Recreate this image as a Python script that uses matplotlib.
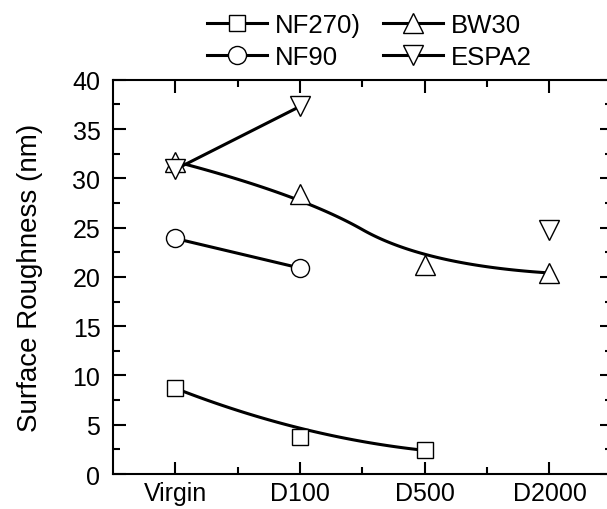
import numpy as np
import matplotlib
matplotlib.use("Agg")
import matplotlib.pyplot as plt
from matplotlib.lines import Line2D

plt.rcParams['font.family'] = ['Liberation Sans', 'DejaVu Sans']

# ------------------------
# Data
# ------------------------
categories = ["Virgin", "D100", "D500", "D2000"]
nf270 = [8.7, 3.75, 2.4, None]
nf90 = [23.9, 20.9, None, None]
bw30 = [31.7, 28.4, 21.2, 20.4]
espa2 = [30.9, 37.3, None, 24.8]
labels = ["NF270)", "NF90", "BW30", "ESPA2"]


def bspline2(xs, ys, n=60):
    # clamped quadratic B-spline: data points act as control points
    P = np.column_stack([xs, ys]).astype(float)
    m = len(P)
    Q = [P[0]] + [(P[k] + P[k + 1]) / 2 for k in range(1, m - 2)] + [P[-1]]
    t = np.linspace(0, 1, n)[:, None]
    segs = []
    for k in range(1, m - 1):
        a, c, b = Q[k - 1], P[k], Q[k]
        segs.append((1 - t)**2 * a + 2 * t * (1 - t) * c + t**2 * b)
    pts = np.vstack(segs)
    return pts[:, 0], pts[:, 1]


def valid(vals):
    idx = [i for i, v in enumerate(vals) if v is not None]
    return idx, [vals[i] for i in idx]


fig = plt.figure(figsize=(6.07, 5.10), dpi=100)
ax = fig.add_axes([0.186, 0.0686, 0.822, 0.773])

LW = 2.2
mk = dict(markerfacecolor='white', markeredgecolor='black', markeredgewidth=1.0,
          linestyle='none', zorder=3)
sizes = {'s': 11, 'o': 13, '^': 14, 'v': 14}

# NF270 - smooth curve
x, y = valid(nf270)
cx, cy = bspline2(x, y)
ax.plot(cx, cy, color='black', lw=LW, zorder=2)
ax.plot(x, y, marker='s', markersize=sizes['s'], **mk)

# NF90 - straight
x, y = valid(nf90)
ax.plot(x, y, color='black', lw=LW, zorder=2)
ax.plot(x, y, marker='o', markersize=sizes['o'], **mk)

# BW30 - smooth curve
x, y = valid(bw30)
cx, cy = bspline2(x, y)
ax.plot(cx, cy, color='black', lw=LW, zorder=2)
ax.plot(x, y, marker='^', markersize=sizes['^'], **mk)

# ESPA2 - line only between consecutive points
x, y = valid(espa2)
ax.plot(x[:2], y[:2], color='black', lw=LW, zorder=2)
ax.plot(x, y, marker='v', markersize=sizes['v'], **mk)

ax.set_xlim(-0.5, 3.5)
ax.set_ylim(0, 40)
ax.set_xticks(range(len(categories)))
ax.set_xticklabels(categories)
ax.set_xticks([0.5, 1.5, 2.5], minor=True)
ax.set_yticks(range(0, 41, 5))
ax.set_yticks(np.arange(2.5, 40, 5), minor=True)
ax.tick_params(which='both', direction='in', top=True, right=True, width=1.5,
               labelsize=18)
ax.tick_params(which='major', length=9)
ax.tick_params(which='minor', length=5)
ax.tick_params(axis='x', pad=5)
ax.tick_params(axis='y', pad=9)
for s in ax.spines.values():
    s.set_linewidth(1.5)
ax.set_ylabel("Surface Roughness (nm)", fontsize=20, labelpad=21)

handles = [Line2D([], [], color='black', lw=LW, marker=m, markersize=sizes[m],
                  markerfacecolor='white', markeredgecolor='black', markeredgewidth=1.0)
           for m in ['s', 'o', '^', 'v']]
fig.legend(handles, labels, ncol=2, loc='upper left',
           bbox_to_anchor=(207 / 607, 1 - 14 / 510),
           frameon=False, fontsize=18.5, handlelength=2.33, handletextpad=0.31,
           columnspacing=0.86, labelspacing=0.33, borderpad=0, borderaxespad=0)

fig.savefig("out.png", dpi=100)
